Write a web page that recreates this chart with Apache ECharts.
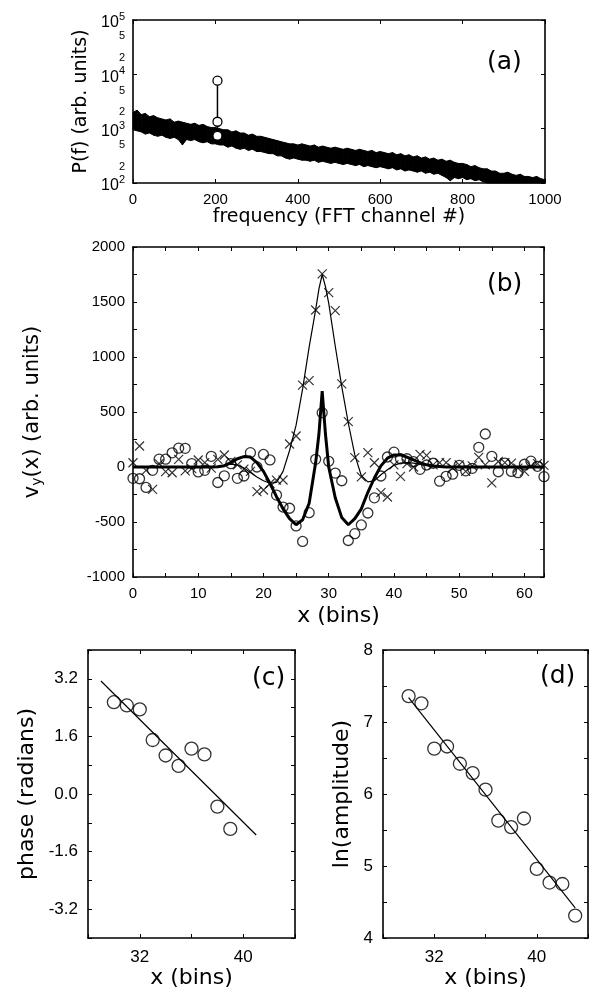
<!DOCTYPE html>
<html>
<head>
<meta charset="utf-8">
<script src="https://cdn.jsdelivr.net/npm/echarts@6/dist/echarts.min.js"></script>
<style>
  html, body { margin: 0; padding: 0; background: #fff; }
  #chart { width: 592px; height: 994px; }
</style>
</head>
<body>
<div id="chart"></div>
<script>
// (a) power spectrum: upper / lower edge of the noisy band, every 10 channels
const specChannel = [0, 10, 20, 30, 40, 50, 60, 70, 80, 90, 100, 110, 120, 130, 140, 150, 160, 170, 180, 190,
    200, 210, 220, 230, 240, 250, 260, 270, 280, 290, 300, 310, 320, 330, 340, 350, 360, 370, 380, 390,
    400, 410, 420, 430, 440, 450, 460, 470, 480, 490, 500, 510, 520, 530, 540, 550, 560, 570, 580, 590,
    600, 610, 620, 630, 640, 650, 660, 670, 680, 690, 700, 710, 720, 730, 740, 750, 760, 770, 780, 790,
    800, 810, 820, 830, 840, 850, 860, 870, 880, 890, 900, 910, 920, 930, 940, 950, 960, 970, 980, 990, 1000];
const specUpper = [1995, 2188, 1820, 1905, 1660, 1738, 1585, 1514, 1445, 1514,
    1318, 1380, 1318, 1259, 1202, 1259, 1148, 1202, 1096, 1047,
    1047, 1000, 955, 955, 871, 912, 832, 832, 759, 794,
    724, 724, 692, 661, 631, 603, 575, 550, 525, 525,
    501, 525, 501, 479, 501, 457, 479, 457, 437, 457,
    437, 417, 437, 417, 398, 417, 398, 380, 398, 363,
    380, 363, 347, 363, 331, 347, 316, 331, 302, 316,
    288, 302, 275, 288, 263, 275, 251, 263, 240, 229,
    229, 219, 200, 209, 191, 182, 182, 166, 166, 151,
    151, 158, 145, 138, 145, 132, 132, 126, 132, 120, 115];
const specLower = [955, 912, 871, 794, 832, 759, 724, 759, 692, 661,
    692, 631, 501, 631, 603, 631, 575, 550, 575, 525,
    525, 501, 501, 457, 479, 437, 417, 437, 398, 417,
    380, 380, 363, 347, 347, 316, 316, 288, 275, 288,
    275, 263, 263, 251, 263, 240, 251, 240, 229, 240,
    229, 219, 229, 219, 209, 219, 200, 209, 200, 191,
    200, 191, 182, 191, 174, 182, 166, 174, 166, 158,
    166, 151, 158, 145, 151, 138, 126, 110, 126, 120,
    126, 115, 120, 110, 115, 105, 100, 100, 100, 100,
    100, 100, 100, 100, 100, 100, 100, 100, 100, 100, 100];
const peakChannel = [205, 205, 205];
const peakPower = [740, 1340, 7640];

// (b) v_y(x) per bin: crosses, circles and the two fitted curves
const binX = [0, 1, 2, 3, 4, 5, 6, 7, 8, 9, 10, 11, 12, 13, 14, 15, 16, 17, 18, 19, 20, 21, 22, 23, 24, 25, 26, 27, 28, 29, 30, 31,
    32, 33, 34, 35, 36, 37, 38, 39, 40, 41, 42, 43, 44, 45, 46, 47, 48, 49, 50, 51, 52, 53, 54, 55, 56, 57, 58, 59, 60, 61, 62, 63];
const crossV = [39, 191, -30, -203, 30, -42, -52, 70, -35, -15, 64, 40, -10, 70, 109, 50, 20, -20, -40, -224, -209, -150, -120, -118,
    209, 282, 745, 785, 1427, 1755, 1585, 1421, 755, 412, 85, -90, 130, 39, -233, -273, 20, -85, 30, 0, 115, 105, 20, 40, 40, -10,
    20, -40, 10, 88, 20, -145, 50, 40, 35, -10, -40, 10, 30, 15];
const circleV = [-103, -107, -186, -30, 71, 71, 129, 171, 170, 31, -45, -30, 97, -141, -80, 30, -103, -82, 130, 0, 114, 64, -255, -364,
    -375, -536, -677, -415, 70, 494, 52, -55, -125, -668, -606, -527, -418, -280, -82, 91, 135, 75, 75, 48, -21, 18, 34, -129, -85, -65,
    15, -35, -12, 179, 300, 97, -43, 36, -40, -52, 25, 53, 6, -88];
const fitX = [0, 4, 8, 12, 13, 14, 15, 16, 17, 18, 19, 20, 21, 22, 23, 24, 25, 26, 27, 28, 28.5, 29, 29.5, 30, 31, 32, 33, 34, 35, 36,
    37, 38, 39, 40, 41, 42, 43, 44, 45, 46, 48, 52, 56, 60, 63];
const fitThin = [0, 0, 0, 0, 5, 15, 25, 20, -10, -50, -90, -125, -148, -140, -40, 150, 380, 710, 1090, 1430, 1620, 1750, 1640, 1490, 1100,
    730, 400, 110, -80, -135, -125, -70, -25, 15, 35, 40, 35, 25, 15, 8, 0, 0, 0, 0, 0];
const fitThick = [0, 0, 0, 0, 3, 12, 40, 75, 95, 90, 40, -40, -150, -270, -380, -470, -525, -480, -330, 40, 300, 690, 300, 0, -280,
    -460, -525, -470, -380, -230, -100, 10, 80, 110, 110, 90, 65, 40, 20, 10, 0, 0, 0, 0, 0];

// (c) phase vs bin
const phaseX = [30, 31, 32, 33, 34, 35, 36, 37, 38, 39];
const phaseV = [2.55, 2.46, 2.35, 1.50, 1.07, 0.78, 1.26, 1.10, -0.35, -0.97];
const phaseFitX = [29.0, 41.0];
const phaseFitV = [3.14, -1.14];

// (d) ln(amplitude) vs bin
const ampX = [30, 31, 32, 33, 34, 35, 36, 37, 38, 39, 40, 41, 42, 43];
const ampV = [7.36, 7.26, 6.63, 6.66, 6.42, 6.29, 6.06, 5.63, 5.54, 5.66, 4.96, 4.77, 4.75, 4.31];
const ampFitX = [30.0, 43.0];
const ampFitV = [7.34, 4.42];

const tickFont = 'Liberation Sans';
const titleFont = 'DejaVu Sans';
const crossSymbol = 'path://M0,0L10,10M10,0L0,10';

const pairs = (xs, ys) => xs.map((x, i) => [x, ys[i]]);

const axisCommon = (labelSize) => ({
    axisLine: { show: true, onZero: false, lineStyle: { color: '#000', width: 1.6 } },
    axisTick: { show: true, inside: true, length: 4, lineStyle: { color: '#000', width: 1 } },
    splitLine: { show: false },
    axisLabel: { color: '#000', fontSize: labelSize, fontFamily: tickFont }
});

const nameStyle = (size) => ({ color: '#000', fontSize: size, fontFamily: titleFont });

// builds bottom + top x axes and left + right y axes for one grid
const makeX = (gridIndex, min, max, interval, formatter, name, nameGap, nameSize, labelSize, margin) => {
    const bottom = Object.assign(axisCommon(labelSize), {
        type: 'value', gridIndex, min, max, interval, position: 'bottom',
        name, nameLocation: 'middle', nameGap, nameTextStyle: nameStyle(nameSize)
    });
    bottom.axisLabel.formatter = formatter;
    bottom.axisLabel.margin = margin;
    const top = Object.assign(axisCommon(labelSize), { type: 'value', gridIndex, min, max, interval, position: 'top' });
    top.axisLabel.show = false;
    return [bottom, top];
};
const makeY = (gridIndex, min, max, interval, formatter, name, nameGap, nameSize, labelSize, margin, rich) => {
    const left = Object.assign(axisCommon(labelSize), {
        type: 'value', gridIndex, min, max, interval, position: 'left',
        name, nameLocation: 'middle', nameGap, nameTextStyle: Object.assign({ rich }, nameStyle(nameSize))
    });
    left.axisLabel.formatter = formatter;
    left.axisLabel.margin = margin;
    const right = Object.assign(axisCommon(labelSize), { type: 'value', gridIndex, min, max, interval, position: 'right' });
    right.axisLabel.show = false;
    return [left, right];
};

const isMult = (v, step) => Math.abs(v / step - Math.round(v / step)) < 1e-6;

const xAxes = [
    ...makeX(0, 0, 1000, 200, v => String(v), 'frequency (FFT channel #)', 20, 19, 15, 9),
    ...makeX(1, 0, 63, 5, v => (isMult(v, 10) ? String(v) : ''), 'x (bins)', 28, 22, 15, 9),
    ...makeX(2, 28, 44, 4, v => (isMult(v, 8) ? String(v) : ''), 'x (bins)', 27, 22, 17, 11),
    ...makeX(3, 28, 44, 4, v => (isMult(v, 8) ? String(v) : ''), 'x (bins)', 27, 22, 17, 11)
];

// (a) y axis is drawn in log10 units
const yA = makeY(0, 2, 5, 1, v => {
    if (isMult(v, 1)) return '{b|10}{e|' + Math.round(v) + '}';
    return '{m|' + Math.round(Math.pow(10, v - Math.floor(v))) + '}';
}, 'P(f) (arb. units)', 40, 19, 15, 8);
yA[0].axisLabel.customValues = [2, Math.log10(200), Math.log10(500), 3, Math.log10(2000), Math.log10(5000), 4,
    Math.log10(20000), Math.log10(50000), 5];
yA[0].axisTick.customValues = [2, 3, 4, 5];
yA[0].axisLabel.rich = {
    b: { fontSize: 16, fontFamily: tickFont, color: '#000', padding: [6, 0, 0, 0] },
    e: { fontSize: 11, fontFamily: tickFont, color: '#000', padding: [0, 0, 6, 0] },
    m: { fontSize: 11, fontFamily: tickFont, color: '#000' }
};

const yB = makeY(1, -1000, 2000, 250, v => (isMult(v, 500) ? String(v) : ''),
    '{n|v}{s|y}{n|(x) (arb. units)}', 89, 21, 15, 8,
    { n: { fontSize: 21, fontFamily: titleFont, color: '#000' }, s: { fontSize: 14, fontFamily: titleFont, color: '#000', padding: [9, 0, 0, 0] } });
const yC = makeY(2, -4, 4, 0.8, v => (isMult(v, 1.6) ? v.toFixed(1) : ''), 'phase (radians)', 50, 22, 17, 10);
const yD = makeY(3, 4, 8, 0.5, v => (isMult(v, 1) ? String(v) : ''), 'ln(amplitude)', 30, 22, 17, 10);

const yAxes = [...yA, ...yB, ...yC, ...yD];

// band rows: [channel, log10(upper), log10(lower)]
const spectrumRows = specChannel.map((c, i) => [c, Math.log10(specUpper[i]), Math.log10(specLower[i])]);

// one filled quad between this row and the next one
const renderBand = (params, api) => {
    const i = params.dataIndexInside;
    if (i >= params.dataInsideLength - 1) return null;
    const x0 = api.value(0, i), x1 = api.value(0, i + 1);
    const pts = [
        api.coord([x0, api.value(1, i)]),
        api.coord([x1, api.value(1, i + 1)]),
        api.coord([x1, api.value(2, i + 1)]),
        api.coord([x0, api.value(2, i)])
    ];
    return {
        type: 'polygon',
        shape: { points: pts },
        style: { fill: '#000', stroke: '#000', lineWidth: 1 }
    };
};

const circleStyle = { color: 'transparent', borderColor: '#000', borderWidth: 1.3 };
const panelLabel = (text, left, top) => ({
    type: 'text', left, top, style: { text, fontSize: 25, fontFamily: titleFont, fill: '#000' }
});

const option = {
    animation: false,
    backgroundColor: '#fff',
    grid: [
        { left: 133, top: 20, width: 412, height: 163 },
        { left: 133, top: 247, width: 411, height: 330 },
        { left: 88, top: 650, width: 207, height: 288 },
        { left: 383, top: 650, width: 205, height: 288 }
    ],
    xAxis: xAxes,
    yAxis: yAxes,
    graphic: [
        panelLabel('(a)', 487, 50),
        panelLabel('(b)', 487, 272),
        panelLabel('(c)', 252, 666),
        panelLabel('(d)', 540, 664)
    ],
    series: [
        {
            type: 'custom', xAxisIndex: 0, yAxisIndex: 0,
            encode: { x: 0, y: [1, 2] },
            renderItem: renderBand,
            data: spectrumRows
        },
        {
            type: 'line', xAxisIndex: 0, yAxisIndex: 0, symbol: 'circle', symbolSize: 9, z: 5,
            itemStyle: { color: '#fff', borderColor: '#000', borderWidth: 1.3 },
            lineStyle: { color: '#000', width: 1.5 },
            data: pairs(peakChannel, peakPower.map(p => Math.log10(p)))
        },
        {
            type: 'line', xAxisIndex: 2, yAxisIndex: 2, symbol: 'none',
            lineStyle: { color: '#000', width: 1.2 },
            data: pairs(fitX, fitThin)
        },
        {
            type: 'line', xAxisIndex: 2, yAxisIndex: 2, symbol: 'none',
            lineStyle: { color: '#000', width: 3 },
            data: pairs(fitX, fitThick)
        },
        {
            type: 'scatter', xAxisIndex: 2, yAxisIndex: 2, symbol: crossSymbol, symbolSize: 9,
            itemStyle: { color: 'transparent', borderColor: '#000', borderWidth: 1.2 },
            data: pairs(binX, crossV)
        },
        {
            type: 'scatter', xAxisIndex: 2, yAxisIndex: 2, symbol: 'circle', symbolSize: 10,
            itemStyle: circleStyle,
            data: pairs(binX, circleV)
        },
        {
            type: 'line', xAxisIndex: 4, yAxisIndex: 4, symbol: 'none',
            lineStyle: { color: '#000', width: 1.2 },
            data: pairs(phaseFitX, phaseFitV)
        },
        {
            type: 'scatter', xAxisIndex: 4, yAxisIndex: 4, symbol: 'circle', symbolSize: 13,
            itemStyle: circleStyle,
            data: pairs(phaseX, phaseV)
        },
        {
            type: 'line', xAxisIndex: 6, yAxisIndex: 6, symbol: 'none',
            lineStyle: { color: '#000', width: 1.2 },
            data: pairs(ampFitX, ampFitV)
        },
        {
            type: 'scatter', xAxisIndex: 6, yAxisIndex: 6, symbol: 'circle', symbolSize: 13,
            itemStyle: circleStyle,
            data: pairs(ampX, ampV)
        }
    ]
};

const chart = echarts.init(document.getElementById('chart'));
chart.setOption(option);
</script>
</body>
</html>
